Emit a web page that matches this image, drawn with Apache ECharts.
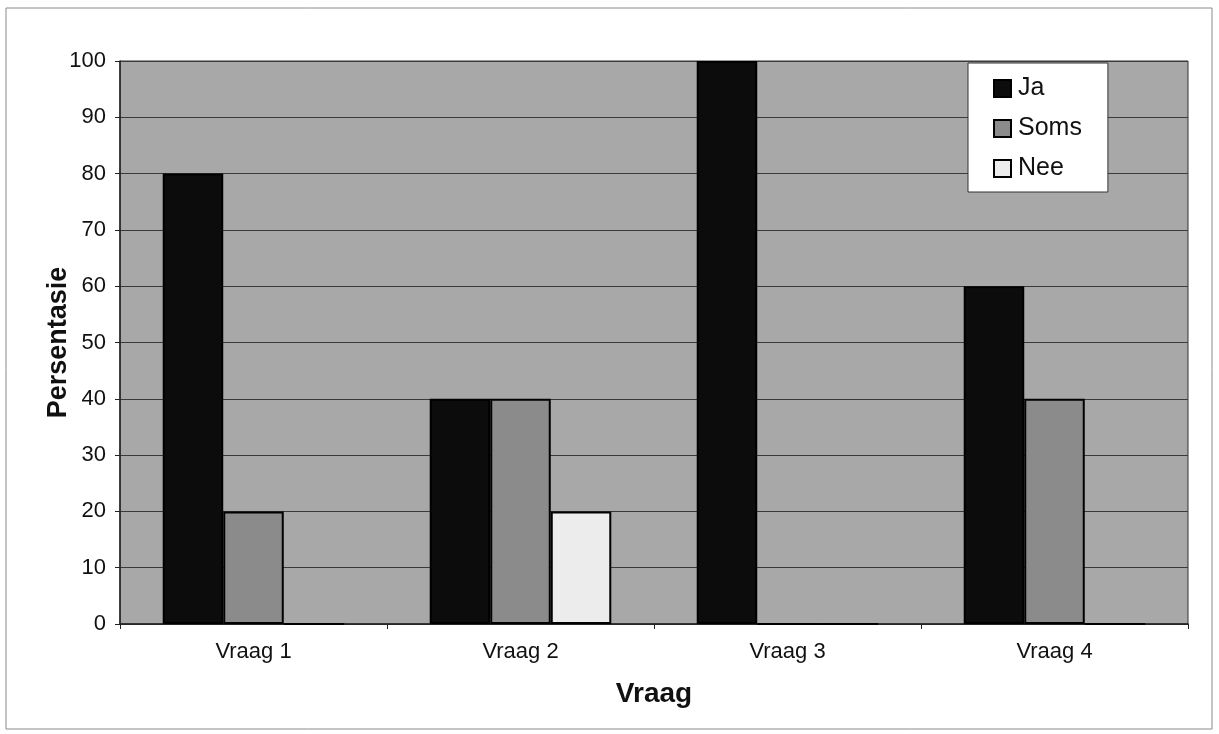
<!DOCTYPE html>
<html>
<head>
<meta charset="utf-8">
<script src="https://cdn.jsdelivr.net/npm/echarts@6/dist/echarts.min.js"></script>
<style>
html,body{margin:0;padding:0;background:#fff;}
#chart{width:1219px;height:734px;}
</style>
</head>
<body>
<div id="chart"></div>
<script>
const categories = ['Vraag 1', 'Vraag 2', 'Vraag 3', 'Vraag 4'];
const jaValues = [80, 40, 100, 60];
const somsValues = [20, 40, 0, 40];
const neeValues = [0, 20, 0, 0];
const seriesNames = ['Ja', 'Soms', 'Nee'];

const chart = echarts.init(document.getElementById('chart'));
const font = 'Liberation Sans, Arial, sans-serif';
const barStyle = (c) => ({ color: c, borderColor: '#000', borderWidth: 2 });

chart.setOption({
  animation: false,
  backgroundColor: '#fff',
  graphic: [{
    type: 'rect',
    shape: { x: 6, y: 8, width: 1206, height: 721 },
    style: { fill: 'none', stroke: '#8a8a8a', lineWidth: 1 },
    z: -1
  }],
  grid: {
    left: 120, right: 31, top: 61, bottom: 110,
    show: true, backgroundColor: '#a8a8a8', borderColor: '#333', borderWidth: 1
  },
  legend: {
    orient: 'vertical',
    left: 968, top: 63,
    data: seriesNames,
    icon: 'rect',
    itemWidth: 17, itemHeight: 17,
    itemGap: 15,
    padding: [13, 26, 11, 25],
    backgroundColor: '#fff',
    borderColor: '#333',
    borderWidth: 1,
    textStyle: { fontFamily: font, fontSize: 25, color: '#111', padding: [0, 0, 0, 2] }
  },
  xAxis: {
    type: 'category',
    data: categories,
    name: 'Vraag',
    nameLocation: 'middle',
    nameGap: 56,
    nameMoveOverlap: false,
    nameTextStyle: { fontFamily: font, fontSize: 28, fontWeight: 'bold', color: '#111' },
    axisLine: { lineStyle: { color: '#222', width: 1.5 } },
    axisTick: { show: true, length: 5, lineStyle: { color: '#222' } },
    axisLabel: { fontFamily: font, fontSize: 22, color: '#111', margin: 17 }
  },
  yAxis: {
    type: 'value',
    min: 0, max: 100, interval: 10,
    name: 'Persentasie',
    nameLocation: 'middle',
    nameGap: 48,
    nameMoveOverlap: false,
    nameTextStyle: { fontFamily: font, fontSize: 27, fontWeight: 'bold', color: '#111' },
    axisLine: { show: true, lineStyle: { color: '#222', width: 1.5 } },
    axisTick: { show: true, length: 5, lineStyle: { color: '#222' } },
    axisLabel: { fontFamily: font, fontSize: 22, color: '#111', margin: 14 },
    splitLine: { show: true, lineStyle: { color: '#3a3a3a', width: 1 } }
  },
  series: [
    { name: seriesNames[0], type: 'bar', data: jaValues, barGap: '0%', barCategoryGap: '32%', itemStyle: barStyle('#0c0c0c') },
    { name: seriesNames[1], type: 'bar', data: somsValues, barGap: '0%', barCategoryGap: '32%', itemStyle: barStyle('#8b8b8b') },
    { name: seriesNames[2], type: 'bar', data: neeValues, barGap: '0%', barCategoryGap: '32%', itemStyle: barStyle('#ececec') }
  ]
});
</script>
</body>
</html>
